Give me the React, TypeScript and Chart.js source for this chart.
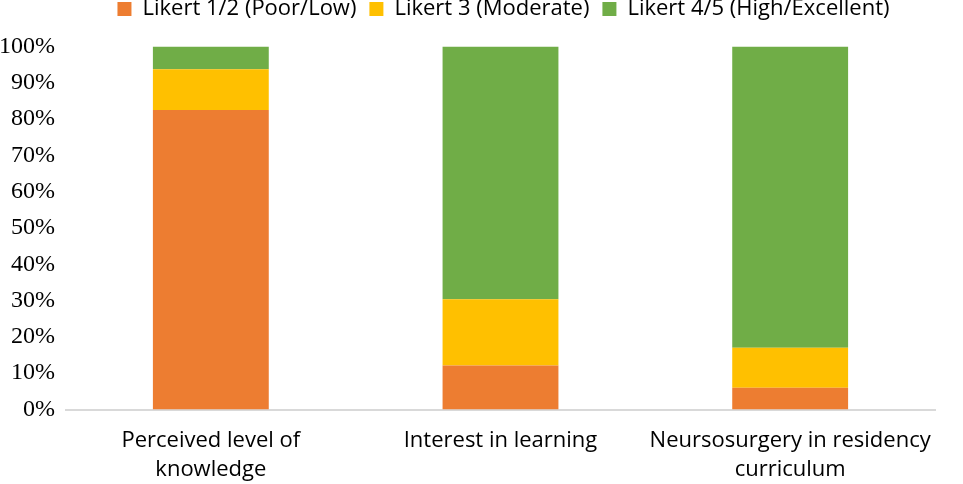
import React, { useEffect, useRef } from "react";
import { Chart, registerables } from "chart.js";

Chart.register(...registerables);

const categories: string[][] = [
  ["Perceived level of", "knowledge"],
  ["Interest in learning"],
  ["Neursosurgery in residency", "curriculum"],
];
const seriesNames = ["Likert 1/2 (Poor/Low)", "Likert 3 (Moderate)", "Likert 4/5 (High/Excellent)"];
const lowValues = [82.5, 12.1, 6.0];
const moderateValues = [11.2, 18.3, 11.0];
const highValues = [6.3, 69.6, 83.0];
const colors = ["#ED7D31", "#FFC000", "#70AD47"];

const sansFont = "'Open Sans', sans-serif";
const serifFont = "'Liberation Serif', 'DejaVu Serif', serif";

const legendPlugin = {
  id: "legendPlace",
  beforeInit(chart: any) {
    const origFit = chart.legend.fit;
    chart.legend.fit = function () {
      origFit.bind(this)();
      this.height = 61.5;
    };
  },
  afterLayout(chart: any) {
    const l = chart.legend;
    const ca = chart.chartArea;
    if (l && ca) {
      l.left = ca.left + 6;
      l.right = ca.right;
      l.width = l.right - l.left;
    }
  },
};

export default function App() {
  const ref = useRef<HTMLCanvasElement | null>(null);
  useEffect(() => {
    if (!ref.current) return;
    const chart = new Chart(ref.current, {
      type: "bar",
      data: {
        labels: categories,
        datasets: [lowValues, moderateValues, highValues].map((d, i) => ({
          label: seriesNames[i],
          data: d,
          backgroundColor: colors[i],
          borderWidth: 0,
          barPercentage: 0.4,
          categoryPercentage: 1,
        })),
      },
      plugins: [legendPlugin],
      options: {
        animation: false,
        responsive: false,
        maintainAspectRatio: false,
        layout: { padding: { top: -15, right: 28, left: 0, bottom: 0 } },
        plugins: {
          tooltip: { enabled: false },
          legend: {
            position: "top",
            labels: {
              boxWidth: 14,
              boxHeight: 14,
              padding: 13,
              color: "#000",
              font: { family: sansFont, size: 22 },
            },
          },
        },
        scales: {
          x: {
            stacked: true,
            grid: { display: false, drawTicks: false },
            border: { display: true, color: "#d9d9d9", width: 2 },
            ticks: {
              color: "#000",
              font: { family: sansFont, size: 22, lineHeight: 1.3 },
              maxRotation: 0,
              padding: 17,
            },
            afterFit: (s: any) => {
              s.height = 74.5;
            },
          },
          y: {
            stacked: true,
            min: 0,
            max: 100,
            grid: { display: false, drawTicks: false },
            border: { display: false },
            ticks: {
              stepSize: 10,
              color: "#000",
              padding: 11,
              font: { family: serifFont, size: 24 },
              callback: (v: any) => v + "%",
            },
            afterFit: (s: any) => {
              s.width = 66;
            },
          },
        },
      },
    });
    return () => chart.destroy();
  }, []);
  return (
    <div style={{ position: "fixed", left: 0, top: 0, width: 963, height: 484, background: "#fff" }}>
      <canvas ref={ref} width={963} height={484} style={{ width: 963, height: 484 }} />
    </div>
  );
}
